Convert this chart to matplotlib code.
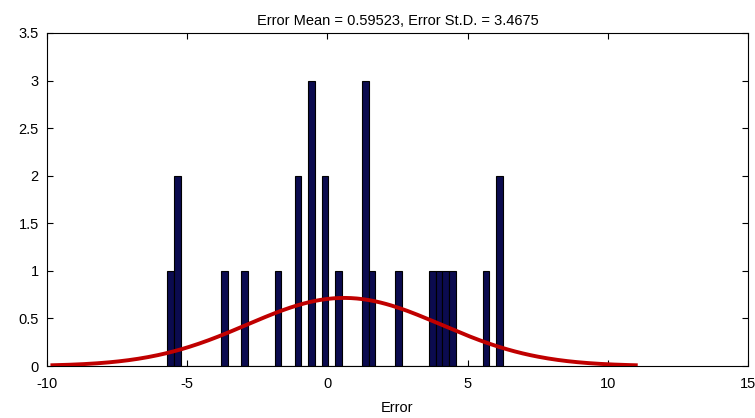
import numpy as np
import matplotlib
matplotlib.use("Agg")
import matplotlib.pyplot as plt

plt.rcParams['font.family'] = ['Liberation Sans', 'DejaVu Sans']

# Histogram data (50 bins between data min and max)
err_min = -5.71
err_max = 6.25
counts = [1, 2, 0, 0, 0, 0, 0, 0, 1, 0,
          0, 1, 0, 0, 0, 0, 1, 0, 0, 2,
          0, 3, 0, 2, 0, 1, 0, 0, 0, 3,
          1, 0, 0, 0, 1, 0, 0, 0, 0, 1,
          1, 1, 1, 0, 0, 0, 0, 1, 0, 2]
err_mean = 0.59523
err_std = 3.4675

xticks = [-10, -5, 0, 5, 10, 15]
yticks = [0, 0.5, 1, 1.5, 2, 2.5, 3, 3.5]

fig = plt.figure(figsize=(7.55, 4.18), dpi=100)
ax = fig.add_axes([47/755, 1-366/418, (748-47)/755, (366-33)/418])

nb = len(counts)
edges = np.linspace(err_min, err_max, nb + 1)
width = edges[1] - edges[0]
ax.bar(edges[:-1], counts, width=width, align='edge',
       color='#0b0b4f', edgecolor='black', linewidth=0.8, zorder=2)

# fitted normal curve (histfit style), scaled by N * bin width
n_total = sum(counts)
xs = np.linspace(err_mean - 3*err_std, err_mean + 3*err_std, 300)
ys = n_total * width / (err_std*np.sqrt(2*np.pi)) * np.exp(-0.5*((xs-err_mean)/err_std)**2)
ax.plot(xs, ys, color='#c00000', linewidth=2.8, zorder=3)

ax.set_xlim(-10, 15)
ax.set_ylim(0, 3.5)
ax.set_xticks(xticks)
ax.set_xticklabels(['-10', '-5', '0', '5', '10', '15'])
ax.set_yticks(yticks)
ax.set_yticklabels(['0', '0.5', '1', '1.5', '2', '2.5', '3', '3.5'])
ax.tick_params(direction='in', top=True, right=True, length=4, width=0.8,
               labelsize=10.5)
ax.tick_params(axis='x', pad=8)
ax.tick_params(axis='y', pad=6)
for s in ax.spines.values():
    s.set_linewidth(0.8)
ax.set_xlabel('Error', fontsize=10.5, labelpad=7)
ax.set_title('Error Mean = 0.59523, Error St.D. = 3.4675', fontsize=10.5, pad=6)

fig.savefig('out.png', dpi=100)
